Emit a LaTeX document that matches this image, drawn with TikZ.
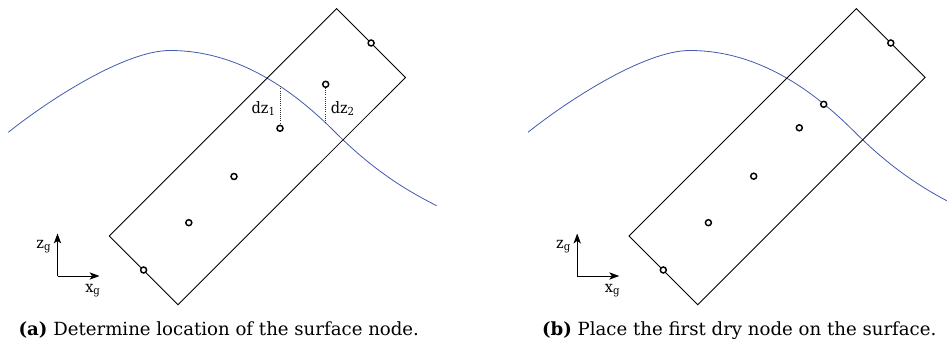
\documentclass[tikz,border=0pt]{standalone}
\usepackage{fontspec}
\setmainfont{DejaVu Serif}
\newfontfamily\lblfont{DejaVu Serif}[FakeStretch=0.92]
\usetikzlibrary{arrows.meta}
\definecolor{curveblue}{RGB}{65,90,175}
\begin{document}
\begin{tikzpicture}[x=0.75pt,y=-0.75pt,
  frame/.style={line width=0.65pt},
  surf/.style={curveblue, line width=0.6pt},
  nd/.style={circle, draw, fill=white, line width=1.1pt, inner sep=0pt, minimum size=4.5pt},
  dzline/.style={densely dotted, line width=0.6pt, black!80},
  axis/.style={line width=0.65pt, -{Stealth[length=7.5pt,width=5.5pt,inset=2pt]}},
  lbl/.style={font=\lblfont\fontsize{11.8}{14}\selectfont, inner sep=0pt},
  captext/.style={font=\fontsize{13.6}{16}\selectfont, inner sep=0pt, anchor=base}]
\useasboundingbox (0,0) rectangle (947,342);
\clip (0,0) rectangle (947,342);
% ---------- panel (a) ----------
\begin{scope}
\coordinate (aT) at (336.7,8.6);
\coordinate (aR) at (405.5,77.4);
\coordinate (aB) at (178.0,304.8);
\coordinate (aL) at (109.2,236.0);
\draw[surf] (8.3,132.3) .. controls (48.3,100.3) and (125,50.5) .. (170,50.5)
  .. controls (240,50.5) and (295,92) .. (335,132)
  .. controls (370,167) and (401.7,188.2) .. (436.7,205.7);
\draw[frame] (aT) -- (aR) -- (aB) -- (aL) -- cycle;
\coordinate (s1) at (280,86.3);
\coordinate (s2) at (325.7,123.0);
\node[nd] (a1) at (371.1,43) {};
\node[nd] (a2) at (325.7,84.3) {};
\node[nd] (a3) at (280,128.3) {};
\node[nd] (a4) at (234,176.5) {};
\node[nd] (a5) at (188.8,222.7) {};
\node[nd] (a6) at (143.6,270) {};
\draw[dzline] (s1) -- (a3.north);
\draw[dzline] (a2.south) -- (s2);
\node[lbl, anchor=base east] (dz1) at (276,113.3) {dz\textsubscript{1}};
\node[lbl, anchor=base west] (dz2) at (330.5,113.3) {dz\textsubscript{2}};
\coordinate (ao) at (57.5,276);
\coordinate (az) at (57.5,233.5);
\coordinate (ax) at (99.5,276);
\draw[axis] (ao) -- (az);
\draw[axis] (ao) -- (ax);
\node[lbl, anchor=base east] (zg) at (51.5,248.3) {z\textsubscript{g}};
\node[lbl, anchor=base west] (xg) at (85,292) {x\textsubscript{g}};
\end{scope}
% ---------- panel (b) ----------
\begin{scope}[shift={(519.7,0)}]
\coordinate (bT) at (336.7,8.6);
\coordinate (bR) at (405.5,77.4);
\coordinate (bB) at (178.0,304.8);
\coordinate (bL) at (109.2,236.0);
\draw[surf] (8.3,132.3) .. controls (48.3,100.3) and (125,50.5) .. (170,50.5)
  .. controls (240,50.5) and (295,92) .. (335,132)
  .. controls (370,167) and (401.7,188.2) .. (436.7,205.7);
\draw[frame] (bT) -- (bR) -- (bB) -- (bL) -- cycle;
\node[nd] (b1) at (371.1,43) {};
\node[nd] (b2) at (304,104.3) {};
\node[nd] (b3) at (279.6,127.8) {};
\node[nd] (b4) at (234,176.2) {};
\node[nd] (b5) at (188.7,222.7) {};
\node[nd] (b6) at (143.6,270) {};
\coordinate (bo) at (57.5,276);
\coordinate (bz) at (57.5,233.5);
\coordinate (bx) at (99.5,276);
\draw[axis] (bo) -- (bz);
\draw[axis] (bo) -- (bx);
\node[lbl, anchor=base east] (bzg) at (51.5,248.3) {z\textsubscript{g}};
\node[lbl, anchor=base west] (bxg) at (85,292) {x\textsubscript{g}};
\end{scope}
% ---------- captions ----------
\node[captext] (capa) at (218.8,335.5) {\textbf{(a)} Determine location of the surface node.};
\node[captext] (capb) at (739.2,335.5) {\textbf{(b)} Place the first dry node on the surface.};
\end{tikzpicture}
\end{document}
